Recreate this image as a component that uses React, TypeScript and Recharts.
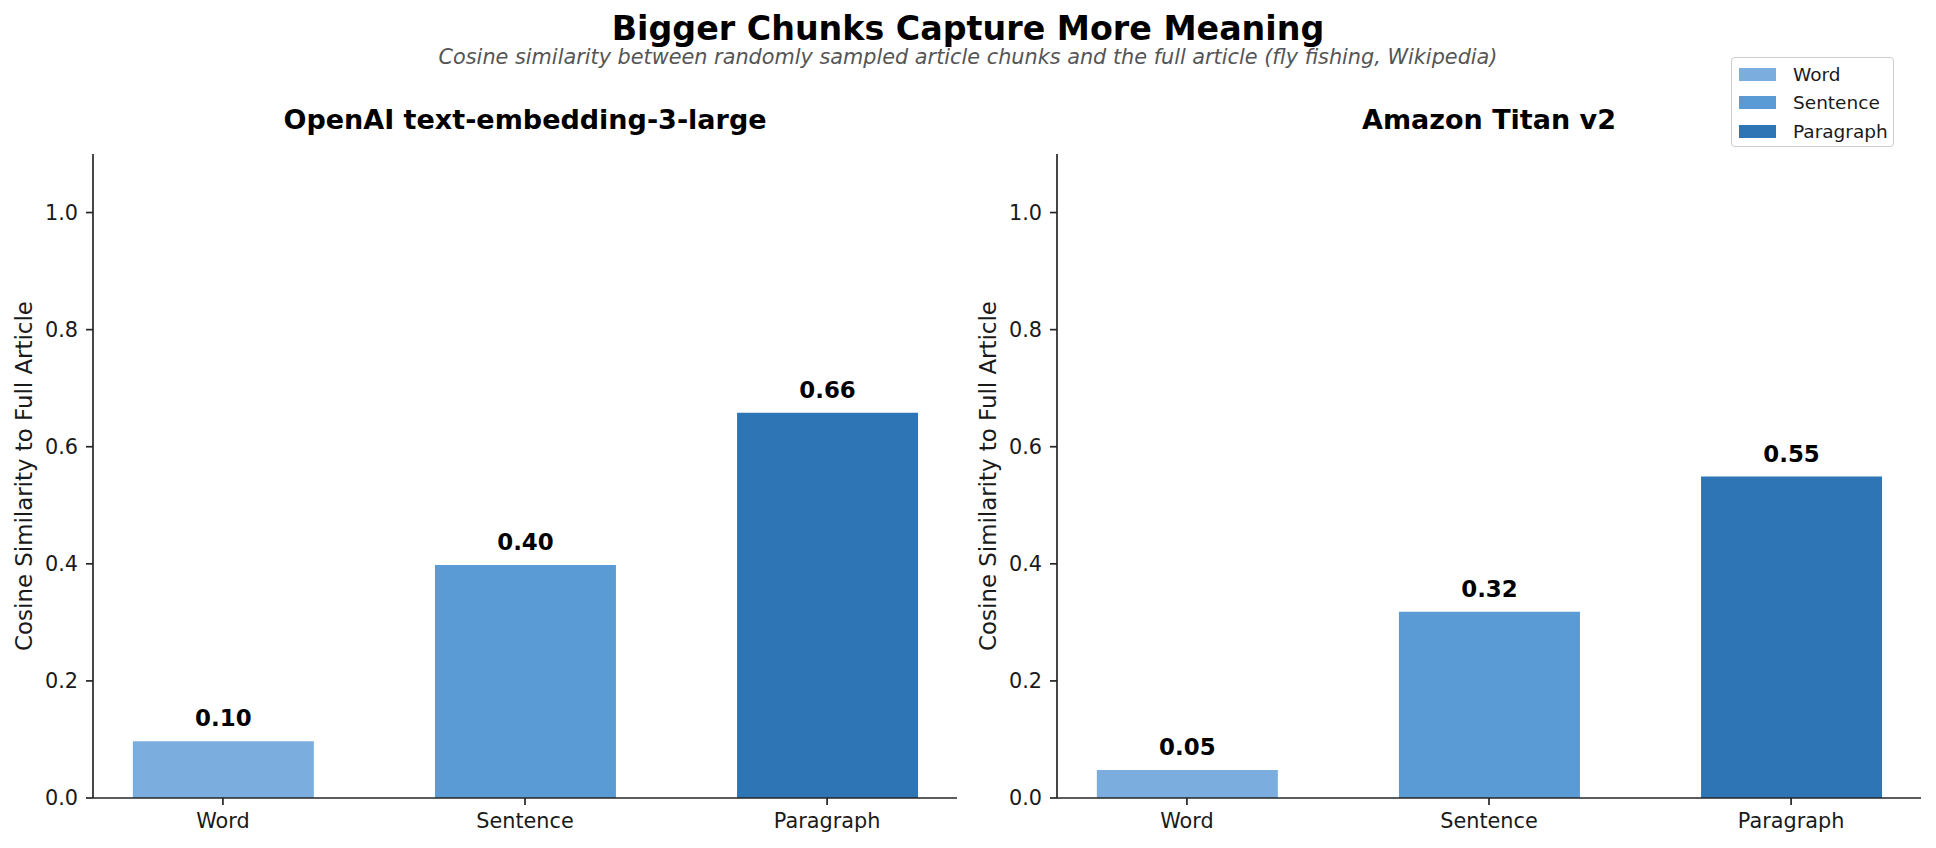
import React from 'react';
import { BarChart, Bar, XAxis, YAxis, Cell, LabelList } from 'recharts';

const categories = ['Word', 'Sentence', 'Paragraph'];
const openaiValues = [0.097, 0.398, 0.658];
const titanValues = [0.048, 0.318, 0.549];
const barColors = ['#7BAEDE', '#5B9BD5', '#2E75B6'];
const yTicks = [0, 0.2, 0.4, 0.6, 0.8, 1.0];
const xTicks = [0, 1, 2];
const panelTitles = ['OpenAI text-embedding-3-large', 'Amazon Titan v2'];
const yAxisLabel = 'Cosine Similarity to Full Article';
const mainTitle = 'Bigger Chunks Capture More Meaning';
const subTitle =
  'Cosine similarity between randomly sampled article chunks and the full article (fly fishing, Wikipedia)';

const FONT = "'DejaVu Sans', sans-serif";
const AXIS = '#262626';
const TEXT = '#1a1a1a';

type PanelProps = {
  values: number[];
  left: number;
  margin: { top: number; right: number; bottom: number; left: number };
};

function Panel({ values, left, margin }: PanelProps) {
  const data = categories.map((c, i) => ({ idx: i, name: c, value: values[i] }));
  return (
    <div style={{ position: 'absolute', left, top: 0 }}>
      <BarChart width={968} height={848} data={data} margin={margin}>
        <XAxis
          type="number"
          dataKey="idx"
          domain={[-0.43, 2.43]}
          ticks={xTicks}
          interval={0}
          allowDataOverflow
          tickFormatter={(v: number) => categories[v] ?? ''}
          height={40}
          tickSize={7}
          tickMargin={8}
          axisLine={{ stroke: AXIS, strokeWidth: 1.7 }}
          tickLine={{ stroke: AXIS, strokeWidth: 1.7 }}
          tick={{ fill: TEXT, fontSize: 20.8, fontFamily: FONT }}
        />
        <YAxis
          type="number"
          domain={[0, 1.1]}
          ticks={yTicks}
          interval={0}
          allowDataOverflow
          tickFormatter={(v: number) => v.toFixed(1)}
          width={60}
          tickSize={7}
          tickMargin={8}
          axisLine={{ stroke: AXIS, strokeWidth: 1.7 }}
          tickLine={{ stroke: AXIS, strokeWidth: 1.7 }}
          tick={{ fill: TEXT, fontSize: 20.8, fontFamily: FONT }}
          label={{
            value: yAxisLabel,
            angle: -90,
            position: 'center',
            dx: -39.5,
            fill: TEXT,
            fontSize: 22.9,
            fontFamily: FONT,
          }}
        />
        <Bar dataKey="value" barSize={181} isAnimationActive={false}>
          {data.map((d, i) => (
            <Cell key={d.name} fill={barColors[i]} />
          ))}
          <LabelList
            dataKey="value"
            position="top"
            offset={15}
            formatter={(v: any) => Number(v).toFixed(2)}
            fill="#000"
            fontSize={22.9}
            fontWeight="bold"
            fontFamily={FONT}
          />
        </Bar>
      </BarChart>
    </div>
  );
}

function LegendBox() {
  const rowTops = [16.5, 44.5, 73.5];
  return (
    <div
      style={{
        position: 'absolute',
        left: 1731,
        top: 57,
        width: 161,
        height: 88,
        border: '1.5px solid #cccccc',
        borderRadius: 4,
        background: 'rgba(255,255,255,0.85)',
        fontFamily: FONT,
      }}
    >
      {categories.map((c, i) => (
        <div key={c}>
          <div
            style={{
              position: 'absolute',
              left: 7,
              top: rowTops[i] - 6.5,
              width: 37,
              height: 13,
              background: barColors[i],
            }}
          />
          <div
            style={{
              position: 'absolute',
              left: 61,
              top: rowTops[i] - 12,
              height: 24,
              lineHeight: '24px',
              fontSize: 18.5,
              color: TEXT,
              whiteSpace: 'nowrap',
            }}
          >
            {c}
          </div>
        </div>
      ))}
    </div>
  );
}

export default function App() {
  return (
    <div
      style={{
        position: 'absolute',
        left: 0,
        top: 0,
        width: 1936,
        height: 848,
        background: '#ffffff',
        overflow: 'hidden',
        fontFamily: FONT,
      }}
    >
      <Panel values={openaiValues} left={0} margin={{ top: 154, right: 11, bottom: 10, left: 33 }} />
      <Panel values={titanValues} left={968} margin={{ top: 154, right: 15, bottom: 10, left: 29 }} />
      <svg
        width={1936}
        height={848}
        style={{ position: 'absolute', left: 0, top: 0, pointerEvents: 'none' }}
      >
        <text x={968} y={40} textAnchor="middle" fontFamily={FONT} fontWeight="bold" fontSize={33.3} fill="#000">
          {mainTitle}
        </text>
        <text x={968} y={63.5} textAnchor="middle" fontFamily={FONT} fontStyle="italic" fontSize={20.8} fill="#555555">
          {subTitle}
        </text>
        <text x={525} y={129} textAnchor="middle" fontFamily={FONT} fontWeight="bold" fontSize={27} fill="#000">
          {panelTitles[0]}
        </text>
        <text x={1489} y={129} textAnchor="middle" fontFamily={FONT} fontWeight="bold" fontSize={27} fill="#000">
          {panelTitles[1]}
        </text>
      </svg>
      <LegendBox />
    </div>
  );
}
